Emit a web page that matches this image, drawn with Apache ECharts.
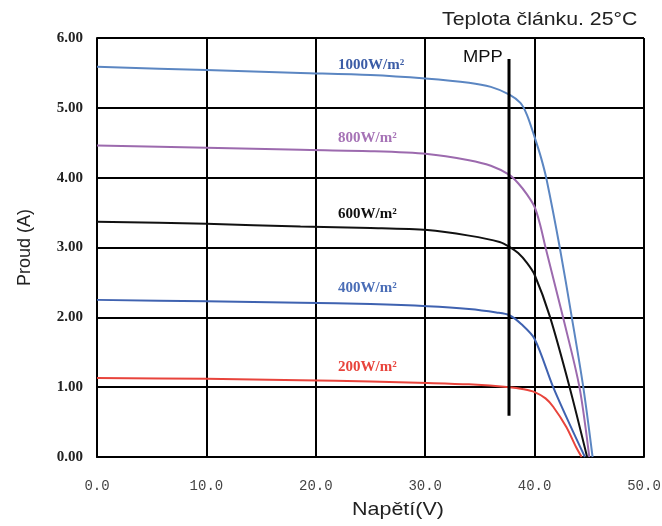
<!DOCTYPE html>
<html>
<head>
<meta charset="utf-8">
<script src="https://cdn.jsdelivr.net/npm/echarts@6/dist/echarts.min.js"></script>
<style>
  html, body { margin: 0; padding: 0; background: #fff; }
  #main { width: 662px; height: 526px; }
</style>
</head>
<body>
<div id="main"></div>
<script>
// I-V křivky pro různé ozáření, [napětí V, proud A]
var irr1000 = [[0,5.59],[10,5.54],[18.6,5.50],[25,5.47],[30,5.42],[34,5.36],[36,5.30],[37.7,5.19],[38.7,5.07],[39.3,4.90],[40,4.58],[40.6,4.28],[41.1,3.97],[42.3,3.0],[43.4,2.0],[44.45,1.0],[45.3,0]];
var irr800 = [[0,4.46],[10,4.43],[18.6,4.40],[25,4.38],[30.2,4.34],[34,4.25],[36,4.17],[37.7,4.04],[38.5,3.92],[39.3,3.76],[40,3.58],[40.5,3.33],[41,3.0],[42.6,2.0],[44.1,1.0],[45.0,0]];
var irr600 = [[0,3.37],[10,3.34],[18.6,3.30],[25,3.28],[30.2,3.25],[34,3.17],[36.8,3.08],[37.7,3.01],[38.5,2.92],[39.3,2.78],[40,2.61],[41.4,2.01],[43.2,1.0],[44.8,0]];
var irr400 = [[0,2.25],[10,2.23],[18.6,2.21],[25,2.19],[30.2,2.16],[34,2.12],[36.5,2.07],[37.7,2.03],[38.8,1.90],[40,1.69],[41.7,1.0],[43.2,0.47],[44.6,0]];
var irr200 = [[0,1.13],[10,1.12],[18.6,1.10],[25,1.08],[30.2,1.06],[34,1.04],[37.7,1.00],[39,0.97],[40,0.93],[41,0.84],[41.7,0.72],[42.9,0.43],[43.8,0.14],[44.3,0]];
var mppLine = [[37.66,0.59],[37.66,5.70]];

var seriesNames = ['1000W/m²', '800W/m²', '600W/m²', '400W/m²', '200W/m²'];
var lineColors = ['#5b86c2', '#9c6aae', '#111111', '#3f62b0', '#e8443c'];
var labelColors = ['#3b5ca6', '#a673b6', '#111111', '#4a6db6', '#e8443c'];
var labelTops = [58, 131, 207, 281, 360];

var myChart = echarts.init(document.getElementById('main'));

var curves = [irr1000, irr800, irr600, irr400, irr200];
var series = curves.map(function (d, i) {
    return {
        name: seriesNames[i],
        type: 'line',
        data: d,
        smooth: 0.3,
        showSymbol: false,
        lineStyle: { color: lineColors[i], width: 2 },
        z: 3
    };
});
series.push({
    name: 'MPP',
    type: 'line',
    data: mppLine,
    showSymbol: false,
    lineStyle: { color: '#000', width: 3 },
    z: 4
});

var graphics = seriesNames.map(function (n, i) {
    return {
        type: 'text',
        left: 338,
        top: labelTops[i],
        style: {
            text: n,
            fill: labelColors[i],
            font: 'bold 15px "Liberation Serif", serif'
        }
    };
});
graphics.push({
    type: 'text', left: 463, top: 49,
    style: { text: 'MPP', fill: '#111', font: '17px "Liberation Sans", Arial, sans-serif' },
    scaleX: 1.08
});
graphics.push({
    type: 'text', left: 442, top: 10,
    style: { text: 'Teplota článku. 25°C', fill: '#222', font: '19px "Liberation Sans", Arial, sans-serif' },
    scaleX: 1.12
});
graphics.push({
    type: 'text', left: 352, top: 500,
    style: { text: 'Napětí(V)', fill: '#222', font: '19px "Liberation Sans", Arial, sans-serif' },
    scaleX: 1.13
});

var option = {
    animation: false,
    grid: { left: 97, right: 18, top: 38, bottom: 69, outerBoundsMode: 'none', containLabel: false },
    xAxis: {
        type: 'value',
        min: 0, max: 50, interval: 10,
        axisLine: { show: true, lineStyle: { color: '#000', width: 2 } },
        axisTick: { show: false },
        axisLabel: {
            margin: 22,
            color: '#444',
            fontSize: 14,
            fontFamily: '"Liberation Mono", monospace',
            formatter: function (v) { return v.toFixed(1); }
        },
        splitLine: { show: true, lineStyle: { color: '#000', width: 2 } }
    },
    yAxis: {
        type: 'value',
        min: 0, max: 6, interval: 1,
        name: 'Proud (A)',
        nameLocation: 'middle',
        nameGap: 63,
        nameTextStyle: { fontSize: 18, color: '#222', fontFamily: '"Liberation Sans", Arial, sans-serif' },
        axisLine: { show: true, lineStyle: { color: '#000', width: 2 } },
        axisTick: { show: false },
        axisLabel: {
            margin: 14,
            color: '#222',
            fontSize: 15,
            fontWeight: 'bold',
            fontFamily: '"Liberation Serif", serif',
            formatter: function (v) { return v.toFixed(2); }
        },
        splitLine: { show: true, lineStyle: { color: '#000', width: 2 } }
    },
    series: series,
    graphic: graphics
};

myChart.setOption(option);
</script>
</body>
</html>
